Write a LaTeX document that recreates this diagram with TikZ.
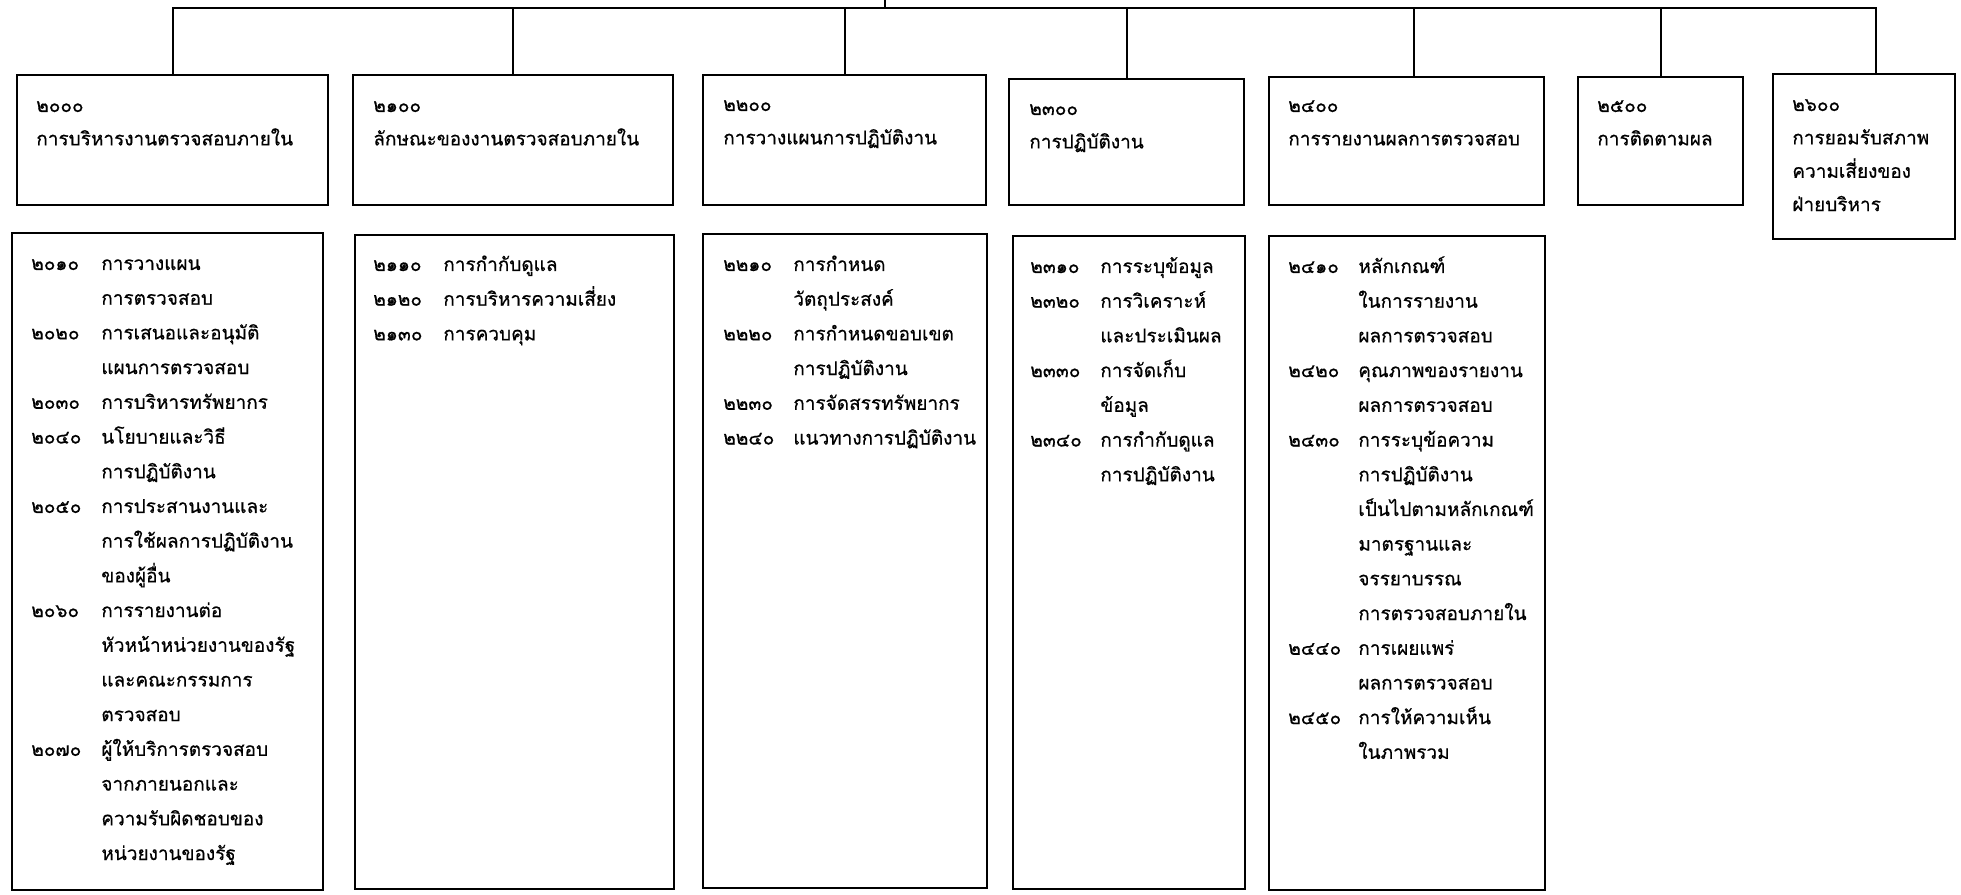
\documentclass[tikz,border=0pt]{standalone}
\usepackage{fontspec}
\newfontfamily\thaifont[Script=Thai,FakeBold=0.6]{Loma}
\newcommand{\lst}[1]{
  \begin{tabular}[t]{@{}p{14mm}@{}l@{}}
    #1
  \end{tabular}
}
\newcommand{\ttl}[1]{
  \begin{tabular}[t]{@{}l@{}}
    #1
  \end{tabular}
}

\begin{document}
\begin{tikzpicture}[x=0.2mm,y=-0.2mm]

%
% Styles
%
\tikzstyle{box} = [rectangle,draw=black,line width=0.4mm,anchor=north west,inner sep=0pt]
\tikzstyle{head} = [anchor=base west,inner sep=0pt,font=\thaifont\fontsize{10.8}{19}\selectfont]
\tikzstyle{items} = [anchor=base west,inner sep=0pt,font=\thaifont\fontsize{10.8}{19.75}\selectfont]
\tikzstyle{link} = [draw=black,line width=0.4mm]

\useasboundingbox (0,0) rectangle (1961,895);

% top row
\node[box,minimum width=62.2mm,minimum height=26mm]   (h2000) at (16,74)   {};
\node[box,minimum width=64mm,minimum height=26mm]     (h2100) at (352,74)  {};
\node[box,minimum width=56.6mm,minimum height=26mm]   (h2200) at (702,74)  {};
\node[box,minimum width=47mm,minimum height=25.2mm]   (h2300) at (1008,78) {};
\node[box,minimum width=55mm,minimum height=25.6mm]   (h2400) at (1268,76) {};
\node[box,minimum width=33mm,minimum height=25.6mm]   (h2500) at (1577,76) {};
\node[box,minimum width=36.4mm,minimum height=33mm]   (h2600) at (1772,73) {};

\node[head] (t2000) at (36,112)   {\ttl{๒๐๐๐\\การบริหารงานตรวจสอบภายใน}};
\node[head] (t2100) at (373,112)  {\ttl{๒๑๐๐\\ลักษณะของงานตรวจสอบภายใน}};
\node[head] (t2200) at (723,111)  {\ttl{๒๒๐๐\\การวางแผนการปฏิบัติงาน}};
\node[head] (t2300) at (1029,115) {\ttl{๒๓๐๐\\การปฏิบัติงาน}};
\node[head] (t2400) at (1288,112) {\ttl{๒๔๐๐\\การรายงานผลการตรวจสอบ}};
\node[head] (t2500) at (1597,112) {\ttl{๒๕๐๐\\การติดตามผล}};
\node[head] (t2600) at (1792,111) {\ttl{๒๖๐๐\\การยอมรับสภาพ\\ความเสี่ยงของ\\ฝ่ายบริหาร}};

% lower row
\node[box,minimum width=62.2mm,minimum height=131.4mm] (l2000) at (11,232)   {};
\node[box,minimum width=63.8mm,minimum height=130.8mm] (l2100) at (354,234)  {};
\node[box,minimum width=56.8mm,minimum height=130.8mm] (l2200) at (702,233)  {};
\node[box,minimum width=46.4mm,minimum height=130.6mm] (l2300) at (1012,235) {};
\node[box,minimum width=55.2mm,minimum height=130.8mm] (l2400) at (1268,235) {};

\node[items] (s2000) at (31,270) {\lst{
  ๒๐๑๐ & การวางแผน \\
       & การตรวจสอบ \\
  ๒๐๒๐ & การเสนอและอนุมัติ \\
       & แผนการตรวจสอบ \\
  ๒๐๓๐ & การบริหารทรัพยากร \\
  ๒๐๔๐ & นโยบายและวิธี \\
       & การปฏิบัติงาน \\
  ๒๐๕๐ & การประสานงานและ \\
       & การใช้ผลการปฏิบัติงาน \\
       & ของผู้อื่น \\
  ๒๐๖๐ & การรายงานต่อ \\
       & หัวหน้าหน่วยงานของรัฐ \\
       & และคณะกรรมการ \\
       & ตรวจสอบ \\
  ๒๐๗๐ & ผู้ให้บริการตรวจสอบ \\
       & จากภายนอกและ \\
       & ความรับผิดชอบของ \\
       & หน่วยงานของรัฐ}};
\node[items] (s2100) at (373,271) {\lst{
  ๒๑๑๐ & การกำกับดูแล \\
  ๒๑๒๐ & การบริหารความเสี่ยง \\
  ๒๑๓๐ & การควบคุม}};
\node[items] (s2200) at (723,271) {\lst{
  ๒๒๑๐ & การกำหนด \\
       & วัตถุประสงค์ \\
  ๒๒๒๐ & การกำหนดขอบเขต \\
       & การปฏิบัติงาน \\
  ๒๒๓๐ & การจัดสรรทรัพยากร \\
  ๒๒๔๐ & แนวทางการปฏิบัติงาน}};
\node[items] (s2300) at (1030,273) {\lst{
  ๒๓๑๐ & การระบุข้อมูล \\
  ๒๓๒๐ & การวิเคราะห์ \\
       & และประเมินผล \\
  ๒๓๓๐ & การจัดเก็บ \\
       & ข้อมูล \\
  ๒๓๔๐ & การกำกับดูแล \\
       & การปฏิบัติงาน}};
\node[items] (s2400) at (1288,273) {\lst{
  ๒๔๑๐ & หลักเกณฑ์ \\
       & ในการรายงาน \\
       & ผลการตรวจสอบ \\
  ๒๔๒๐ & คุณภาพของรายงาน \\
       & ผลการตรวจสอบ \\
  ๒๔๓๐ & การระบุข้อความ \\
       & การปฏิบัติงาน \\
       & เป็นไปตามหลักเกณฑ์ \\
       & มาตรฐานและ \\
       & จรรยาบรรณ \\
       & การตรวจสอบภายใน \\
  ๒๔๔๐ & การเผยแพร่ \\
       & ผลการตรวจสอบ \\
  ๒๔๕๐ & การให้ความเห็น \\
       & ในภาพรวม}};

% connectors
\coordinate (top) at (885,0);
\coordinate (bus) at (885,8);
\path[link] (top) -- (bus);
\path[link] (h2000.north) |- (bus) -| ([xshift=2.4mm]h2600.north);
\path[link] (h2100.north) -- (h2100.north |- bus);
\path[link] (h2200.north) -- (h2200.north |- bus);
\path[link] (h2300.north) -- (h2300.north |- bus);
\path[link] ([xshift=1.4mm]h2400.north) -- ([xshift=1.4mm]h2400.north |- bus);
\path[link] (h2500.north) -- (h2500.north |- bus);

\end{tikzpicture}
\end{document}
